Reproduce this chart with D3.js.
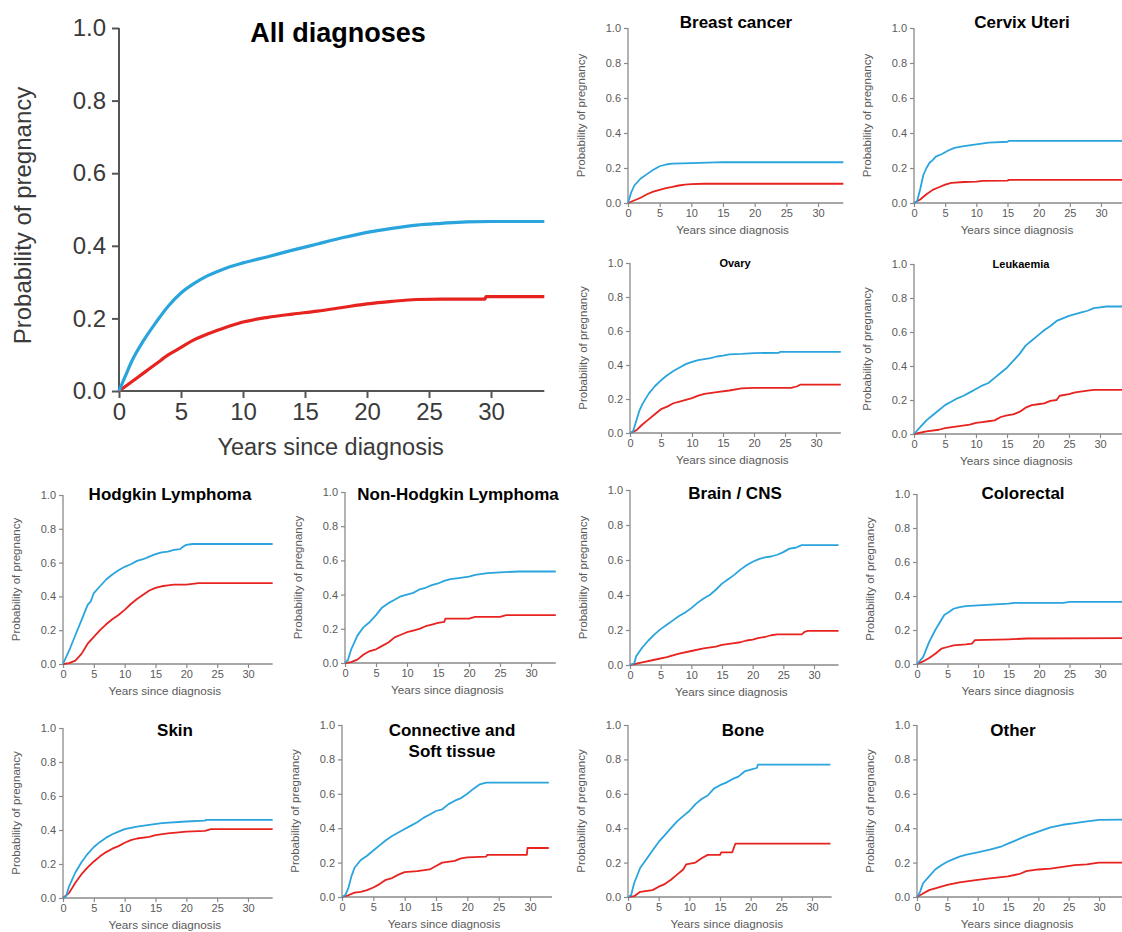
<!DOCTYPE html>
<html><head><meta charset="utf-8">
<script src="https://cdn.jsdelivr.net/npm/d3@7"></script>
<style>
body{margin:0;background:#fff;}
svg{display:block;font-family:"Liberation Sans",Arial,sans-serif;}
</style></head>
<body><svg id="c" width="1122" height="932"></svg>
<script>
// ---------- data ----------
const yTicks = [0, 0.2, 0.4, 0.6, 0.8, 1.0];
const xTicks = [0, 5, 10, 15, 20, 25, 30];
const xLabel = "Years since diagnosis";
const yLabel = "Probability of pregnancy";

const allBlue = [[0,0],[0.5,0.04],[1,0.08],[2,0.14],[3,0.19],[4,0.235],[5,0.27],[6,0.295],[7,0.315],[8,0.33],[9,0.343],[10,0.353],[12,0.37],[14,0.388],[16,0.405],[18,0.422],[20,0.437],[22,0.448],[24,0.457],[26,0.462],[28,0.466],[30,0.467],[34.3,0.467]];
const allRed = [[0,0],[1,0.025],[2,0.05],[3,0.075],[4,0.1],[5,0.12],[6,0.14],[7,0.155],[8,0.168],[9,0.18],[10,0.19],[12,0.203],[14,0.212],[16,0.22],[18,0.23],[20,0.24],[22,0.247],[24,0.252],[26,0.253],[29.5,0.253],[29.6,0.26],[34.3,0.26]];

const breastBlue = [[0,0],[0.5,0.06],[1,0.1],[2,0.14],[3,0.165],[4,0.19],[5,0.21],[6,0.22],[7,0.225],[10,0.228],[15,0.233],[34,0.233]];
const breastRed = [[0,0],[2,0.03],[3,0.05],[4,0.065],[5,0.075],[6,0.085],[7,0.092],[8,0.1],[9,0.105],[10,0.108],[12,0.11],[34,0.11]];

const cervixBlue = [[0,0],[0.5,0.01],[1,0.08],[1.5,0.16],[2,0.2],[2.5,0.23],[3,0.245],[3.5,0.265],[4.5,0.28],[5.5,0.3],[6.5,0.315],[8,0.325],[10,0.335],[12,0.345],[15,0.35],[15.2,0.355],[34,0.355]];
const cervixRed = [[0,0],[1,0.02],[2,0.05],[3,0.075],[4,0.09],[5,0.105],[6,0.115],[8,0.12],[10,0.122],[11,0.127],[15,0.128],[15.2,0.132],[34,0.132]];

const ovaryBlue = [[0,0],[0.5,0.01],[1,0.07],[1.5,0.13],[2,0.17],[3,0.23],[4,0.275],[5,0.31],[6,0.34],[7,0.365],[8,0.385],[9,0.405],[10,0.418],[11,0.428],[12,0.435],[13,0.44],[14,0.45],[15,0.455],[16,0.462],[18,0.465],[20,0.47],[24,0.472],[24.2,0.477],[34,0.477]];
const ovaryRed = [[0,0],[1,0.015],[2,0.05],[3,0.08],[4,0.11],[5,0.14],[6,0.155],[7,0.175],[8,0.185],[9,0.195],[10,0.205],[11,0.22],[12,0.23],[14,0.24],[16,0.25],[18,0.262],[20,0.265],[26,0.265],[27,0.275],[27.5,0.285],[34,0.285]];

const leukBlue = [[0,0],[1,0.04],[2,0.08],[3,0.11],[4,0.14],[5,0.17],[6,0.19],[7,0.21],[8,0.225],[9,0.245],[10,0.265],[11,0.285],[12,0.3],[13,0.33],[14,0.36],[15,0.39],[16,0.43],[17,0.47],[18,0.52],[19,0.55],[20,0.58],[21,0.61],[22,0.635],[23,0.665],[24,0.68],[25,0.695],[26,0.705],[27,0.715],[28,0.725],[29,0.74],[30,0.745],[31,0.75],[34,0.75]];
const leukRed = [[0,0],[2,0.015],[4,0.025],[5,0.035],[7,0.045],[9,0.055],[10,0.065],[11,0.07],[12,0.075],[13,0.08],[14,0.1],[15,0.11],[16,0.115],[17,0.13],[18,0.155],[19,0.17],[20,0.175],[21,0.18],[22,0.195],[23,0.2],[23.5,0.225],[25,0.235],[26,0.245],[28,0.255],[29,0.26],[34,0.26]];

const hodgBlue = [[0,0],[1,0.08],[2,0.17],[3,0.26],[4,0.35],[4.5,0.37],[5,0.42],[6,0.46],[7,0.5],[8,0.53],[9,0.555],[10,0.575],[11,0.59],[12,0.61],[13,0.62],[14,0.635],[15,0.65],[16,0.66],[17,0.665],[18,0.675],[19,0.68],[19.5,0.695],[20,0.705],[21,0.71],[34,0.71]];
const hodgRed = [[0,0],[1,0.005],[2,0.02],[3,0.06],[4,0.12],[5,0.16],[6,0.2],[7,0.235],[8,0.265],[9,0.29],[10,0.32],[11,0.355],[12,0.385],[13,0.41],[14,0.435],[15,0.45],[16,0.46],[17,0.465],[18,0.47],[20,0.47],[22,0.478],[34,0.478]];

const nhlBlue = [[0,0],[0.5,0.02],[1,0.08],[2,0.16],[3,0.21],[4,0.24],[5,0.28],[6,0.325],[7,0.35],[8,0.37],[9,0.39],[10,0.4],[11,0.41],[12,0.43],[13,0.44],[14,0.455],[15,0.465],[16,0.48],[17,0.49],[18,0.495],[20,0.505],[21,0.515],[23,0.525],[25,0.53],[28,0.535],[34,0.535]];
const nhlRed = [[0,0],[1,0.005],[2,0.02],[3,0.05],[4,0.07],[5,0.08],[6,0.1],[7,0.12],[8,0.15],[9,0.165],[10,0.18],[11,0.19],[12,0.2],[13,0.215],[14,0.225],[15,0.235],[16,0.24],[16.2,0.26],[20,0.26],[21,0.27],[25,0.27],[26,0.28],[34,0.28]];

const brainBlue = [[0,0],[0.7,0.01],[1,0.05],[2,0.1],[3,0.14],[4,0.175],[5,0.205],[6,0.23],[7,0.255],[8,0.28],[9,0.3],[10,0.325],[11,0.355],[12,0.38],[13,0.4],[14,0.43],[15,0.465],[16,0.49],[17,0.515],[18,0.545],[19,0.57],[20,0.59],[21,0.605],[22,0.615],[23,0.62],[24,0.63],[25,0.645],[26,0.665],[27,0.67],[28,0.685],[34,0.685]];
const brainRed = [[0,0],[2,0.015],[4,0.03],[6,0.045],[8,0.065],[10,0.08],[12,0.095],[14,0.105],[15,0.115],[17,0.125],[18,0.13],[19,0.14],[20,0.145],[21,0.155],[22,0.16],[23,0.17],[24,0.175],[28,0.175],[28.5,0.19],[29,0.195],[34,0.195]];

const coloBlue = [[0,0],[1,0.04],[2,0.13],[3,0.2],[4,0.26],[4.5,0.29],[5,0.3],[6,0.325],[7,0.335],[8,0.34],[10,0.345],[15,0.355],[16,0.36],[24,0.36],[25,0.365],[34,0.365]];
const coloRed = [[0,0],[1,0.015],[2,0.035],[3,0.06],[4,0.09],[5,0.1],[6,0.11],[8,0.115],[9,0.12],[9.5,0.14],[15,0.145],[18,0.15],[34,0.152]];

const skinBlue = [[0,0],[0.5,0.01],[1,0.07],[2,0.15],[3,0.21],[4,0.26],[5,0.3],[6,0.33],[7,0.355],[8,0.375],[9,0.39],[10,0.405],[12,0.42],[14,0.43],[16,0.44],[20,0.45],[23,0.455],[23.2,0.46],[34,0.46]];
const skinRed = [[0,0],[1,0.03],[2,0.09],[3,0.14],[4,0.18],[5,0.215],[6,0.245],[7,0.27],[8,0.29],[9,0.305],[10,0.325],[11,0.34],[12,0.35],[14,0.36],[15,0.37],[17,0.38],[20,0.39],[23,0.395],[24,0.405],[34,0.405]];

const connBlue = [[0,0],[0.5,0.01],[1,0.05],[1.5,0.12],[2,0.17],[3,0.215],[4,0.24],[5,0.27],[6,0.3],[7,0.33],[8,0.355],[9,0.375],[10,0.395],[11,0.415],[12,0.435],[13,0.46],[14,0.48],[15,0.5],[16,0.51],[17,0.54],[18,0.56],[19,0.575],[20,0.6],[21,0.63],[22,0.655],[23,0.665],[33,0.665]];
const connRed = [[0,0],[1,0.01],[2,0.025],[3,0.03],[4,0.04],[5,0.055],[6,0.075],[7,0.1],[8,0.11],[9,0.13],[10,0.145],[12,0.15],[14,0.16],[15,0.18],[16,0.2],[18,0.21],[19,0.225],[20,0.23],[23,0.235],[23.2,0.245],[29.5,0.245],[29.6,0.285],[33,0.285]];

const boneBlue = [[0,0],[0.5,0.01],[1,0.08],[2,0.17],[3,0.22],[4,0.27],[5,0.32],[6,0.36],[7,0.4],[8,0.44],[9,0.47],[10,0.5],[11,0.54],[12,0.57],[13,0.59],[14,0.63],[15,0.65],[16,0.665],[17,0.685],[18,0.7],[19,0.73],[20,0.74],[21,0.75],[21.2,0.77],[33,0.77]];
const boneRed = [[0,0],[1,0.005],[2,0.03],[4,0.04],[5,0.06],[6,0.075],[7,0.1],[8,0.13],[9,0.16],[9.5,0.19],[11,0.2],[12,0.225],[13,0.245],[15,0.245],[15.2,0.26],[17,0.26],[17.5,0.31],[33,0.31]];

const otherBlue = [[0,0],[0.5,0.03],[1,0.08],[2,0.12],[3,0.16],[4,0.185],[5,0.205],[6,0.22],[7,0.235],[8,0.245],[10,0.26],[12,0.275],[14,0.295],[15,0.31],[16,0.325],[18,0.355],[20,0.38],[22,0.405],[24,0.42],[26,0.43],[28,0.44],[30,0.448],[34,0.45]];
const otherRed = [[0,0],[1,0.02],[2,0.04],[3,0.05],[4,0.06],[5,0.07],[7,0.085],[10,0.1],[12,0.108],[15,0.12],[17,0.135],[18,0.15],[20,0.16],[22,0.165],[24,0.175],[26,0.185],[28,0.19],[30,0.2],[34,0.2]];

// ---------- layout ----------
const BLUE = "#2aa4dc", RED = "#e6231f";
const panels = [
  {title:["All diagnoses"], big:true, x0:119, x30:491, xMax:34.3, yTop:28, yBot:391, tx:338, ty:33, ts:27, blue:allBlue, red:allRed},
  {title:["Breast cancer"], x0:628, x30:818, xMax:34, yTop:28, yBot:203, tx:736, ty:22, ts:17, blue:breastBlue, red:breastRed},
  {title:["Cervix Uteri"], x0:914, x30:1101, xMax:34, yTop:28, yBot:203, tx:1022, ty:22, ts:17, blue:cervixBlue, red:cervixRed},
  {title:["Ovary"], x0:630, x30:816, xMax:34, yTop:263, yBot:433, tx:735, ty:263, ts:11, blue:ovaryBlue, red:ovaryRed},
  {title:["Leukaemia"], x0:914, x30:1100, xMax:34, yTop:264, yBot:434, tx:1021, ty:264, ts:11, blue:leukBlue, red:leukRed},
  {title:["Hodgkin Lymphoma"], x0:63, x30:248, xMax:34, yTop:495, yBot:664, tx:170, ty:494, ts:17, blue:hodgBlue, red:hodgRed},
  {title:["Non-Hodgkin Lymphoma"], x0:345, x30:531, xMax:34, yTop:492, yBot:663, tx:458, ty:494, ts:17, blue:nhlBlue, red:nhlRed},
  {title:["Brain / CNS"], x0:630, x30:814, xMax:34, yTop:490, yBot:665, tx:735, ty:493, ts:17, blue:brainBlue, red:brainRed},
  {title:["Colorectal"], x0:917, x30:1100, xMax:34, yTop:494, yBot:664, tx:1023, ty:493, ts:17, blue:coloBlue, red:coloRed},
  {title:["Skin"], x0:63, x30:248, xMax:34, yTop:728, yBot:898, tx:175, ty:730, ts:17, blue:skinBlue, red:skinRed},
  {title:["Connective and","Soft tissue"], x0:342, x30:530, xMax:33.5, yTop:725, yBot:897, tx:452, ty:730, ts:17, blue:connBlue, red:connRed},
  {title:["Bone"], x0:628, x30:812, xMax:33.2, yTop:725, yBot:897, tx:743, ty:730, ts:17, blue:boneBlue, red:boneRed},
  {title:["Other"], x0:917, x30:1099, xMax:34, yTop:725, yBot:897, tx:1013, ty:730, ts:17, blue:otherBlue, red:otherRed}
];

const svg = d3.select("#c");

panels.forEach(p => {
  const big = !!p.big;
  const pxPerYear = (p.x30 - p.x0) / 30;
  const x = d3.scaleLinear().domain([0, p.xMax]).range([p.x0, p.x0 + pxPerYear * p.xMax]);
  const y = d3.scaleLinear().domain([0, 1]).range([p.yBot, p.yTop]);
  const g = svg.append("g");
  const axisCol = big ? "#555" : "#8a8a8a";
  const txtCol = big ? "#3a3a3a" : "#5a5a5a";
  const fs = big ? 24 : 11;

  const xa = g.append("g").attr("transform", `translate(0,${p.yBot})`)
    .call(d3.axisBottom(x).tickValues(xTicks).tickFormat(d3.format("d")).tickSize(big?7:4).tickPadding(big?5:2));
  const ya = g.append("g").attr("transform", `translate(${p.x0},0)`)
    .call(d3.axisLeft(y).tickValues(yTicks).tickFormat(d3.format(".1f")).tickSize(big?7:4).tickPadding(big?6:3));
  [xa, ya].forEach(a => {
    a.selectAll("path").attr("stroke", axisCol).attr("stroke-width", big?2:1.3);
    a.selectAll("line").attr("stroke", axisCol).attr("stroke-width", big?2:1.2);
    a.selectAll("text").attr("fill", txtCol).style("font-size", fs + "px")
      .style("font-family", '"Liberation Sans",Arial,sans-serif');
  });
  xa.select(".domain").attr("d", `M${x(0)},0H${x.range()[1]}`);
  ya.select(".domain").attr("d", `M0,${p.yBot}V${p.yTop}`);

  // axis titles
  g.append("text").attr("x", (x(0) + x.range()[1]) / 2 - (big?1:3)).attr("y", p.yBot + (big?64:31))
    .attr("text-anchor", "middle").attr("fill", txtCol).style("font-size", (big?23.5:11.7) + "px").text(xLabel);
  g.append("text").attr("transform", `translate(${p.x0 - (big?88:43)},${(p.yTop + p.yBot)/2 + (big?6:0)}) rotate(-90)`)
    .attr("text-anchor", "middle").attr("fill", txtCol).style("font-size", (big?24:11.5) + "px").text(yLabel);

  // title
  p.title.forEach((t, i) => {
    g.append("text").attr("x", p.tx).attr("y", p.ty + i * (p.ts * 1.25)).attr("dy", "0.35em")
      .attr("text-anchor", "middle").attr("font-weight", "bold").attr("fill", "#000")
      .style("font-size", p.ts + "px").text(t);
  });

  const line = d3.line().x(d => x(d[0])).y(d => y(d[1])).curve(big ? d3.curveMonotoneX : d3.curveLinear);
  [[p.red, RED], [p.blue, BLUE]].forEach(([data, col]) => {
    g.append("path").datum(data).attr("d", line).attr("fill", "none")
      .attr("stroke", col).attr("stroke-width", big ? 3.2 : 1.8).attr("stroke-linejoin", "round");
  });
});
</script></body></html>
